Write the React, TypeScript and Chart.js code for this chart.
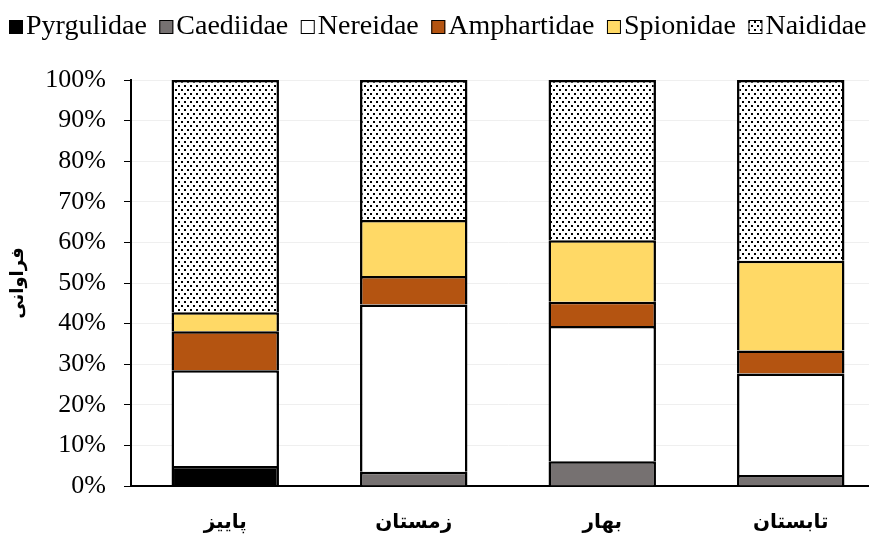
import React, { useEffect, useRef } from "react";
import { Chart, registerables } from "chart.js";

Chart.register(...registerables);

const seasons = ["پاییز", "زمستان", "بهار", "تابستان"];
const seriesNames = ["Pyrgulidae", "Caediidae", "Nereidae", "Amphartidae", "Spionidae", "Naididae"];
const pyrgulidae = [4.9, 0, 0, 0];
const caediidae = [0, 3.5, 6.1, 2.7];
const nereidae = [23.6, 41.2, 33.3, 25.0];
const amphartidae = [9.6, 7.0, 6.0, 5.7];
const spionidae = [4.7, 13.8, 15.1, 22.1];
const naididae = [57.2, 34.5, 39.5, 44.5];
const yTicks = [0, 10, 20, 30, 40, 50, 60, 70, 80, 90, 100];
const yTitle = "فراوانی";

function makeDotPattern(ctx: CanvasRenderingContext2D): CanvasPattern | string {
  const c = document.createElement("canvas");
  c.width = 6;
  c.height = 8;
  const p = c.getContext("2d");
  if (!p) return "#fff";
  p.fillStyle = "#fff";
  p.fillRect(0, 0, 6, 8);
  p.fillStyle = "#000";
  p.fillRect(1, 1, 2, 2);
  p.fillRect(4, 5, 2, 2);
  return ctx.createPattern(c, "repeat") || "#fff";
}

const legendPlugin = {
  id: "customLegend",
  afterDraw(chart: any) {
    const ctx = chart.ctx as CanvasRenderingContext2D;
    ctx.save();
    ctx.font = '28px "Liberation Serif"';
    ctx.textBaseline = "alphabetic";
    const baseline = 34;
    const box = 14;
    let x = 9;
    chart.data.datasets.forEach((ds: any) => {
      ctx.fillStyle = ds.backgroundColor;
      ctx.fillRect(x, baseline - box, box, box);
      ctx.strokeStyle = "#000";
      ctx.lineWidth = 1;
      ctx.strokeRect(x + 0.5, baseline - box + 0.5, box - 1, box - 1);
      x += box + 3;
      ctx.fillStyle = "#000";
      ctx.fillText(ds.label, x, baseline);
      x += ctx.measureText(ds.label).width + 12.5;
    });
    ctx.restore();
  },
};

export default function App() {
  const ref = useRef<HTMLCanvasElement | null>(null);
  useEffect(() => {
    const canvas = ref.current;
    if (!canvas) return;
    const ctx = canvas.getContext("2d")!;
    const pattern = makeDotPattern(ctx);
    const colors = ["#000000", "#767171", "#ffffff", "#b45411", "#ffd966", pattern];
    const values = [pyrgulidae, caediidae, nereidae, amphartidae, spionidae, naididae];
    const chart = new Chart(canvas, {
      type: "bar",
      data: {
        labels: seasons,
        datasets: seriesNames.map((name, i) => ({
          label: name,
          data: values[i],
          backgroundColor: colors[i] as any,
          borderColor: "#000",
          borderWidth: 2.5,
          borderSkipped: "start",
          barPercentage: 0.57,
          categoryPercentage: 1,
        })),
      },
      options: {
        animation: false,
        responsive: false,
        layout: { padding: { top: 80, left: 0, right: 0, bottom: 0 } },
        plugins: { legend: { display: false }, tooltip: { enabled: false } },
        scales: {
          x: {
            stacked: true,
            offset: true,
            grid: { display: false, drawTicks: false },
            border: { display: true, color: "#000", width: 2 },
            ticks: {
              color: "#000",
              padding: 25,
              font: { family: "DejaVu Sans", size: 20, weight: "bold" },
            },
            afterFit: (s: any) => {
              s.height = 53;
            },
          },
          y: {
            stacked: true,
            min: 0,
            max: 100,
            afterBuildTicks: (s: any) => {
              s.ticks = yTicks.map((v) => ({ value: v }));
            },
            ticks: {
              color: "#000",
              padding: 18,
              font: { family: "Liberation Serif", size: 26 },
              callback: (v: any) => v + "%",
            },
            grid: { color: "#efefef", tickColor: "#000", tickLength: 7, lineWidth: 1 },
            border: { display: true, color: "#000", width: 2 },
            title: {
              display: true,
              text: yTitle,
              color: "#000",
              font: { family: "DejaVu Sans", size: 18, weight: "bold" },
              padding: { top: 8, bottom: 0 },
            },
            afterFit: (s: any) => {
              s.width = 131;
            },
          },
        },
      },
      plugins: [legendPlugin],
    });
    return () => chart.destroy();
  }, []);
  return (
    <div
      style={{
        position: "fixed",
        left: 0,
        top: 0,
        width: 869,
        height: 539,
        overflow: "hidden",
        background: "#fff",
      }}
    >
      <canvas ref={ref} width={885} height={539} style={{ display: "block", width: 885, height: 539 }} />
    </div>
  );
}
